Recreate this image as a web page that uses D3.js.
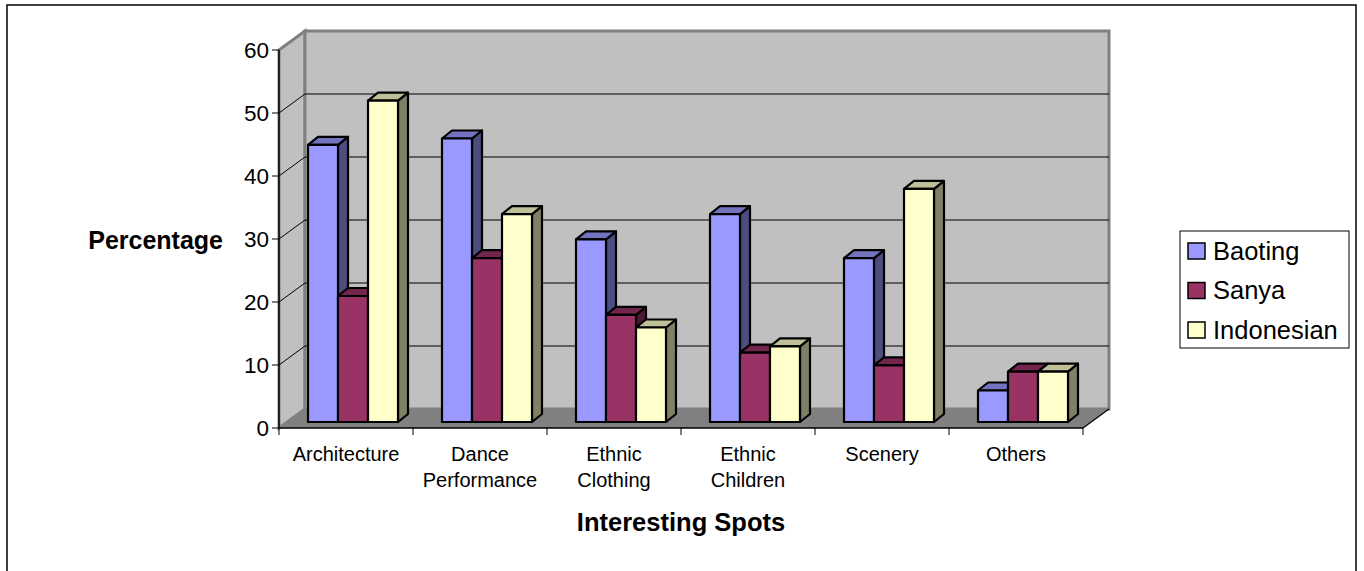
<!DOCTYPE html>
<html>
<head>
<meta charset="utf-8">
<script src="https://cdn.jsdelivr.net/npm/d3@7/dist/d3.min.js"></script>
<style>
  body { margin: 0; background: #fff; }
  svg { display: block; font-family: Arial, "Liberation Sans", sans-serif; }
</style>
</head>
<body>
<svg id="chart" width="1364" height="571"></svg>
<script>
// data
const categories = [["Architecture"], ["Dance", "Performance"], ["Ethnic", "Clothing"], ["Ethnic", "Children"], ["Scenery"], ["Others"]];
const series = ["Baoting", "Sanya", "Indonesian"];
const baoting = [44, 45, 29, 33, 26, 5];
const sanya = [20, 26, 17, 11, 9, 8];
const indonesian = [51, 33, 15, 12, 37, 8];
const yTicks = [0, 10, 20, 30, 40, 50, 60];

const values = [baoting, sanya, indonesian];
const fills = ["#9999ff", "#993366", "#ffffcc"];

const svg = d3.select("#chart");

// frame
svg.append("rect")
    .attr("x", 7).attr("y", 5).attr("width", 1349).attr("height", 620)
    .attr("fill", "none").attr("stroke", "#000").attr("stroke-width", 1.5);

const left = 279, right = 1083;
const wallDx = 26, wallDy = -19;
const catKeys = categories.map(c => c.join(" "));

const x0 = d3.scaleBand().domain(catKeys).range([left, right]);
const x1 = d3.scaleBand().domain(series).range([0, 90]);
const y = d3.scaleLinear().domain([0, 60]).range([428, 50]);

// side wall
svg.append("polygon")
    .attr("points", [[left, y(60)], [left + wallDx, y(60) + wallDy], [left + wallDx, y(0) + wallDy], [left, y(0)]].join(" "))
    .attr("fill", "#c0c0c0").attr("stroke", "#808080").attr("stroke-width", 3);

// back wall
svg.append("rect")
    .attr("x", left + wallDx).attr("y", y(60) + wallDy)
    .attr("width", right - left).attr("height", y(0) - y(60))
    .attr("fill", "#c0c0c0").attr("stroke", "#808080").attr("stroke-width", 3);

// gridlines
yTicks.filter(t => t > 0 && t < 60).forEach(t => {
  svg.append("line")
      .attr("x1", left + wallDx).attr("x2", right + wallDx)
      .attr("y1", y(t) + wallDy).attr("y2", y(t) + wallDy)
      .attr("stroke", "#000").attr("stroke-width", 1);
  svg.append("line")
      .attr("x1", left).attr("x2", left + wallDx)
      .attr("y1", y(t)).attr("y2", y(t) + wallDy)
      .attr("stroke", "#000").attr("stroke-width", 1);
});

// floor
svg.append("polygon")
    .attr("points", [[left, y(0)], [left + wallDx, y(0) + wallDy], [right + wallDx, y(0) + wallDy], [right, y(0)]].join(" "))
    .attr("fill", "#808080");
svg.append("line")
    .attr("x1", right).attr("y1", y(0)).attr("x2", right + wallDx).attr("y2", y(0) + wallDy)
    .attr("stroke", "#000").attr("stroke-width", 1.2);

// axes
svg.append("line").attr("x1", left).attr("x2", left).attr("y1", y(60)).attr("y2", y(0))
    .attr("stroke", "#000").attr("stroke-width", 1.5);
svg.append("line").attr("x1", left).attr("x2", right).attr("y1", y(0)).attr("y2", y(0))
    .attr("stroke", "#000").attr("stroke-width", 1.5);

yTicks.forEach(t => {
  svg.append("line").attr("x1", left - 7).attr("x2", left).attr("y1", y(t)).attr("y2", y(t))
      .attr("stroke", "#000").attr("stroke-width", 1);
  svg.append("text").attr("x", left - 10).attr("y", y(t)).attr("dy", "0.35em")
      .attr("text-anchor", "end").attr("font-size", 22.5).text(t);
});

catKeys.concat(["end"]).forEach((k, i) => {
  const xx = i < catKeys.length ? x0(k) : right;
  svg.append("line").attr("x1", xx).attr("x2", xx).attr("y1", y(0)).attr("y2", y(0) + 7)
      .attr("stroke", "#000").attr("stroke-width", 1);
});

// category labels
categories.forEach((lines, i) => {
  const t = svg.append("text").attr("text-anchor", "middle").attr("font-size", 20)
      .attr("x", x0(catKeys[i]) + x0.bandwidth() / 2).attr("y", 461);
  lines.forEach((ln, j) => t.append("tspan")
      .attr("x", x0(catKeys[i]) + x0.bandwidth() / 2)
      .attr("dy", j === 0 ? 0 : 26).text(ln));
});

// bars
const barDx = 10, barDy = -8;
const offX = 8, offY = -6;
const groupStart = (x0.bandwidth() - 90) / 2 - 1;

function shade(c, k) {
  const r = d3.rgb(c);
  return d3.rgb(r.r * k, r.g * k, r.b * k).toString();
}

catKeys.forEach((k, ci) => {
  series.forEach((s, si) => {
    const v = values[si][ci];
    const xl = x0(k) + groupStart + offX + x1(s);
    const xr = xl + x1.bandwidth();
    const yt = y(v) + offY;
    const yb = y(0) + offY;
    const g = svg.append("g").attr("stroke", "#000").attr("stroke-width", 2.2).attr("stroke-linejoin", "round");
    g.append("polygon")
        .attr("points", [[xr, yt], [xr + barDx, yt + barDy], [xr + barDx, yb + barDy], [xr, yb]].join(" "))
        .attr("fill", shade(fills[si], 0.5));
    g.append("polygon")
        .attr("points", [[xl, yt], [xl + barDx, yt + barDy], [xr + barDx, yt + barDy], [xr, yt]].join(" "))
        .attr("fill", shade(fills[si], 0.75));
    g.append("rect")
        .attr("x", xl).attr("y", yt).attr("width", xr - xl).attr("height", yb - yt)
        .attr("fill", fills[si]);
  });
});

// axis titles
svg.append("text").attr("x", 223).attr("y", 240).attr("dy", "0.35em")
    .attr("text-anchor", "end").attr("font-size", 25).attr("font-weight", "bold").text("Percentage");
svg.append("text").attr("x", (left + right) / 2).attr("y", 522).attr("dy", "0.35em")
    .attr("text-anchor", "middle").attr("font-size", 25.5).attr("font-weight", "bold").text("Interesting Spots");

// legend
const legend = svg.append("g");
legend.append("rect").attr("x", 1180).attr("y", 231).attr("width", 169).attr("height", 117)
    .attr("fill", "#fff").attr("stroke", "#000").attr("stroke-width", 1);
series.forEach((s, i) => {
  const cy = 251 + i * 39.5;
  legend.append("rect").attr("x", 1188).attr("y", cy - 8).attr("width", 17).attr("height", 16)
      .attr("fill", fills[i]).attr("stroke", "#000").attr("stroke-width", 1.5);
  legend.append("text").attr("x", 1213).attr("y", cy).attr("dy", "0.35em")
      .attr("font-size", 25.5).text(s);
});
</script>
</body>
</html>
